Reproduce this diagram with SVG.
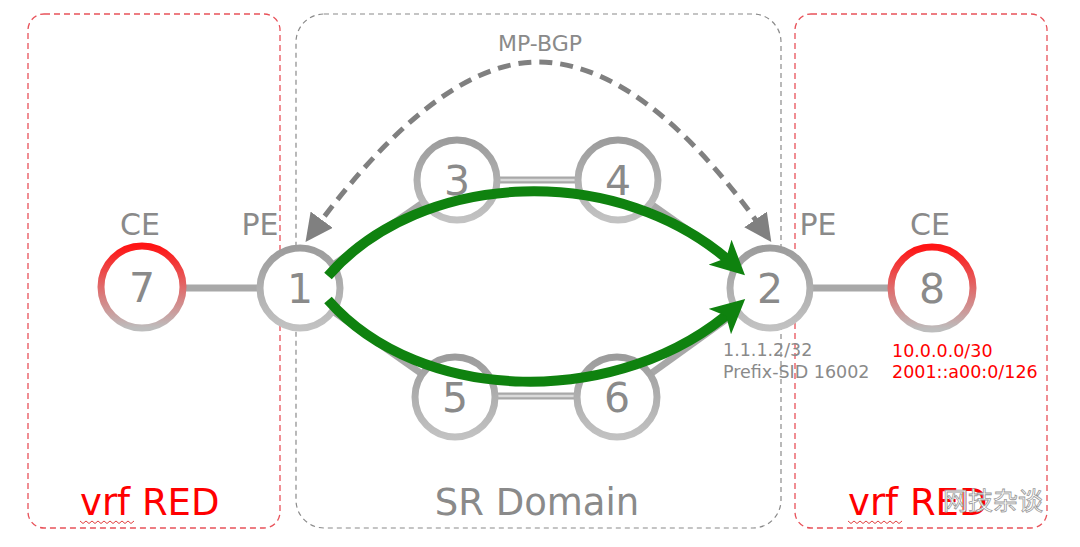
<svg xmlns="http://www.w3.org/2000/svg" width="1080" height="547" viewBox="0 0 1080 547">
<style>
.box-red{fill:none;stroke:#e8525a;stroke-width:1.3;stroke-dasharray:6 4}
.box-gray{fill:none;stroke:#8a8a8a;stroke-width:1.2;stroke-dasharray:5 4}
.node{fill:#fff;stroke:url(#gGray);stroke-width:7}
.node-ce{fill:#fff;stroke:url(#gRed);stroke-width:7}
.num{font-family:"DejaVu Sans",Verdana,sans-serif;font-size:41px;fill:#8a8a8a;text-anchor:middle}
.lbl{font-family:"DejaVu Sans",Verdana,sans-serif;font-size:30px;fill:#8a8a8a;text-anchor:middle}
.link{stroke:#a8a8a8;stroke-width:7;fill:none}
.link-in{stroke:#dadada;stroke-width:2.5;fill:none}
.green{fill:none;stroke:#0f820f;stroke-width:10;stroke-linecap:butt}
.bgp{fill:none;stroke:#808080;stroke-width:5;stroke-dasharray:13 8}
.small{font-family:"DejaVu Sans",Verdana,sans-serif;font-size:17.5px;fill:#8a8a8a}
.red{font-family:"DejaVu Sans",Verdana,sans-serif;font-size:17.5px;fill:#ff0000}
.vrf{font-family:"DejaVu Sans",Verdana,sans-serif;font-size:37px;fill:#ff0000}
</style>
<defs>
<linearGradient id="gGray" x1="0" y1="0" x2="0" y2="1">
<stop offset="0" stop-color="#9c9c9c"/><stop offset="1" stop-color="#c2c2c2"/>
</linearGradient>
<linearGradient id="gRed" x1="0" y1="0" x2="0" y2="1">
<stop offset="0" stop-color="#ff1414"/><stop offset="0.5" stop-color="#e06a6a"/><stop offset="1" stop-color="#bdbdbd"/>
</linearGradient>
<marker id="ahG" viewBox="0 0 10 10" refX="6" refY="5" markerWidth="3.4" markerHeight="3.4" orient="auto" markerUnits="strokeWidth">
<path d="M0,0 L10,5 L0,10 L2.5,5 Z" fill="#0f820f"/>
</marker>
<marker id="ahB" viewBox="0 0 10 10" refX="6" refY="5" markerWidth="5.5" markerHeight="5.5" orient="auto-start-reverse" markerUnits="strokeWidth">
<path d="M0,0 L10,5 L0,10 Z" fill="#808080"/>
</marker>
</defs>

<g id="regions">
<rect class="box-red" x="28" y="14" width="252" height="514" rx="16"/>
<rect class="box-gray" x="296" y="14" width="485" height="514" rx="28"/>
<rect class="box-red" x="795" y="14" width="252" height="514" rx="16"/>
<text class="vrf" x="80" y="515">vrf RED</text>
<path d="M80,521 l3,2.5 l3,-2.5 l3,2.5 l3,-2.5 l3,2.5 l3,-2.5 l3,2.5 l3,-2.5 l3,2.5 l3,-2.5 l3,2.5 l3,-2.5 l3,2.5 l3,-2.5 l3,2.5 l3,-2.5 l3,2.5 l3,-2.5" fill="none" stroke="#e04040" stroke-width="1"/>
<text class="vrf" x="848" y="515">vrf RED</text>
<path d="M848,521 l3,2.5 l3,-2.5 l3,2.5 l3,-2.5 l3,2.5 l3,-2.5 l3,2.5 l3,-2.5 l3,2.5 l3,-2.5 l3,2.5 l3,-2.5 l3,2.5 l3,-2.5 l3,2.5 l3,-2.5 l3,2.5 l3,-2.5" fill="none" stroke="#e04040" stroke-width="1"/>
<text x="537" y="515" font-family="DejaVu Sans, Verdana, sans-serif" font-size="37" fill="#8a8a8a" text-anchor="middle">SR Domain</text>
<text x="540" y="51" font-family="DejaVu Sans, Verdana, sans-serif" font-size="22" fill="#8a8a8a" text-anchor="middle">MP-BGP</text>
</g>

<g id="connectors">
<line class="link" x1="142" y1="288" x2="300" y2="288"/>
<line class="link" x1="770" y1="288" x2="930" y2="288"/>
<line class="link" x1="300" y1="288" x2="456" y2="180"/>
<line class="link" x1="300" y1="288" x2="456" y2="398"/>
<line class="link" x1="617" y1="180" x2="770" y2="288"/>
<line class="link" x1="617" y1="398" x2="770" y2="288"/>
<line class="link" x1="456" y1="180" x2="617" y2="180"/>
<line class="link-in" x1="456" y1="180" x2="617" y2="180"/>
<line class="link" x1="456" y1="396" x2="617" y2="396"/>
<line class="link-in" x1="456" y1="396" x2="617" y2="396"/>
</g>

<g id="n7"><circle class="node-ce" cx="142" cy="287" r="41"/><text class="num" x="142" y="302">7</text><text class="lbl" x="140" y="235">CE</text></g>
<g id="n1"><circle class="node" cx="300" cy="288" r="40"/><text class="num" x="300" y="303">1</text><text class="lbl" x="260" y="235">PE</text></g>
<g id="n3"><circle class="node" cx="457" cy="180" r="40"/><text class="num" x="457" y="195">3</text></g>
<g id="n4"><circle class="node" cx="618" cy="180" r="40"/><text class="num" x="618" y="195">4</text></g>
<g id="n5"><circle class="node" cx="455" cy="397" r="40"/><text class="num" x="455" y="412">5</text></g>
<g id="n6"><circle class="node" cx="617" cy="397" r="40"/><text class="num" x="617" y="412">6</text></g>
<g id="n2"><circle class="node" cx="770" cy="288" r="40"/><text class="num" x="770" y="303">2</text><text class="lbl" x="818" y="235">PE</text>
<text class="small" x="723" y="356">1.1.1.2/32</text><text class="small" x="723" y="378">Prefix-SID 16002</text></g>
<g id="n8"><circle class="node-ce" cx="932" cy="288" r="41"/><text class="num" x="932" y="303">8</text><text class="lbl" x="930" y="235">CE</text>
<text class="red" x="892" y="357">10.0.0.0/30</text><text class="red" x="892" y="378">2001::a00:0/126</text></g>

<g id="paths">
<path class="green" d="M328,276 C420,170 620,160 735,266" marker-end="url(#ahG)"/>
<path class="green" d="M328,300 C420,405 620,410 735,308" marker-end="url(#ahG)"/>
<path class="bgp" d="M312,233 C380,140 460,62 538,62 C620,62 700,140 765,233" marker-start="url(#ahB)" marker-end="url(#ahB)"/>
</g>

<g id="watermark">
<text x="943" y="510" font-family="Noto Sans CJK SC, sans-serif" font-size="25" fill="#ffffff" stroke="#9a9a9a" stroke-width="0.8">网技杂谈</text>
</g>
</svg>
